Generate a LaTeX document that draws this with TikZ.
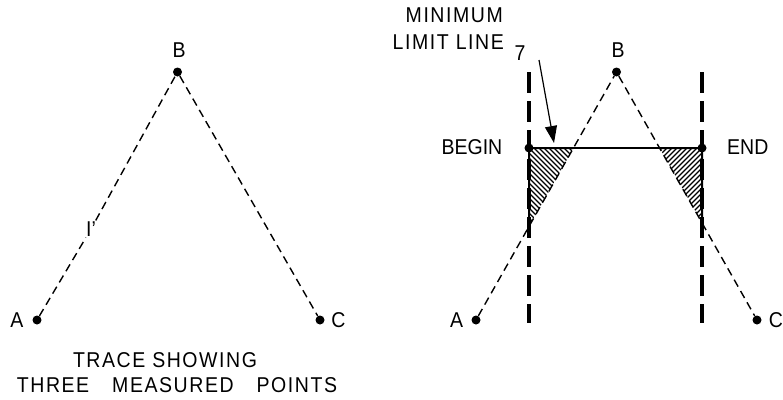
\documentclass[tikz,border=0pt]{standalone}
\usepackage{fontspec}
\usepackage{graphicx}
\setmainfont{Liberation Sans}
\usetikzlibrary{arrows.meta,calc}
\newcommand{\tallt}[1]{\scalebox{1}[1.1]{#1}}
\begin{document}
\begin{tikzpicture}[x=1pt,y=-1pt,
  lbl/.style={font=\fontsize{19.5}{22}\selectfont, inner sep=0pt},
  captext/.style={font=\fontsize{19.5}{22}\selectfont\addfontfeatures{LetterSpace=8}, inner sep=0pt},
  dot/.style={circle, fill=black, inner sep=0pt, minimum size=9pt},
  thindash/.style={line width=1.4pt, dash pattern=on 8pt off 5pt},
  limitline/.style={line width=3.6pt, dash pattern=on 21pt off 8pt},
  hatch/.style={line width=1.2pt},
  pointer/.style={line width=1.2pt, -{Triangle[length=17pt,width=12pt]}}]
\useasboundingbox (0,0) rectangle (783,399);
% ---- left diagram
\node[dot] (A1) at (37,320) {};
\node[dot] (B1) at (177.5,72) {};
\node[dot] (C1) at (320,320) {};
\node[lbl] (lA1) at (17,320) {\tallt{A}};
\node[lbl] (lB1) at (179,50.5) {\tallt{B}};
\node[lbl] (lC1) at (338.5,320) {\tallt{C}};
\node[lbl, fill=white, inner sep=1pt] (lI) at (91,229) {\tallt{I'}};
\draw[thindash] (A1) -- (lI);
\draw[thindash] (lI) -- (B1);
\draw[thindash] (B1) -- (C1);
\node[captext] (cap1) at (165,360) {\tallt{TRACE SHOWING}};
\node[captext] (cap2) at (177,385.5) {\tallt{THREE\hspace{16pt} MEASURED\hspace{16pt} POINTS}};
% ---- right diagram
\node[dot] (A2) at (476,320) {};
\node[dot] (B2) at (616.5,72) {};
\node[dot] (C2) at (757,320) {};
\node[lbl] (lA2) at (456.5,320) {\tallt{A}};
\node[lbl] (lB2) at (618,50.5) {\tallt{B}};
\node[lbl] (lC2) at (776,320) {\tallt{C}};
\coordinate (VLt) at (529,72);
\coordinate (VLb) at (529,323);
\coordinate (VRt) at (702,72);
\coordinate (VRb) at (702,323);
\draw[thindash] (A2) -- (B2) -- (C2);
\draw[limitline] (VLt) -- (VLb);
\draw[limitline] (VRt) -- (VRb);
\node[dot] (BG) at (529,148) {};
\node[dot] (EN) at (702,148) {};
\draw[line width=2pt] (BG) -- (EN);
\node[lbl, anchor=east] (lBG) at (502.5,147.5) {\tallt{BEGIN}};
\node[lbl, anchor=west] (lEN) at (727,147.5) {\tallt{END}};
% intersections
\coordinate (L1) at (intersection cs: first line={(A2.center)--(B2.center)}, second line={(BG.center)--(EN.center)});
\coordinate (L2) at (intersection cs: first line={(A2.center)--(B2.center)}, second line={(VLt)--(VLb)});
\coordinate (R1) at (intersection cs: first line={(B2.center)--(C2.center)}, second line={(BG.center)--(EN.center)});
\coordinate (R2) at (intersection cs: first line={(B2.center)--(C2.center)}, second line={(VRt)--(VRb)});
\begin{scope}
  \clip (BG.center) -- (L1) -- (L2) -- cycle;
  \foreach \k in {-120,-115,...,60} \draw[hatch] ($(BG.center)+(\k,0)$) -- ++(120,120);
\end{scope}
\begin{scope}
  \clip (EN.center) -- (R1) -- (R2) -- cycle;
  \foreach \k in {-200,-195,...,20} \draw[hatch] ($(EN.center)+(\k,120)$) -- ++(160,-160);
\end{scope}
\draw[line width=2pt] (L2) -- (BG.center) -- (L1);
\draw[line width=2pt] (R2) -- (EN.center) -- (R1);
% minimum limit line label
\node[captext, anchor=east] (min) at (503,15) {\tallt{MINIMUM}};
\node[captext, anchor=east] (lim) at (504,42.5) {\tallt{LIMIT LINE}};
\node[lbl] (seven) at (520,53.5) {\tallt{7}};
\coordinate (arrS) at (539,60);
\coordinate (arrE) at (554,143);
\draw[pointer] (arrS) -- (arrE);
\end{tikzpicture}
\end{document}
